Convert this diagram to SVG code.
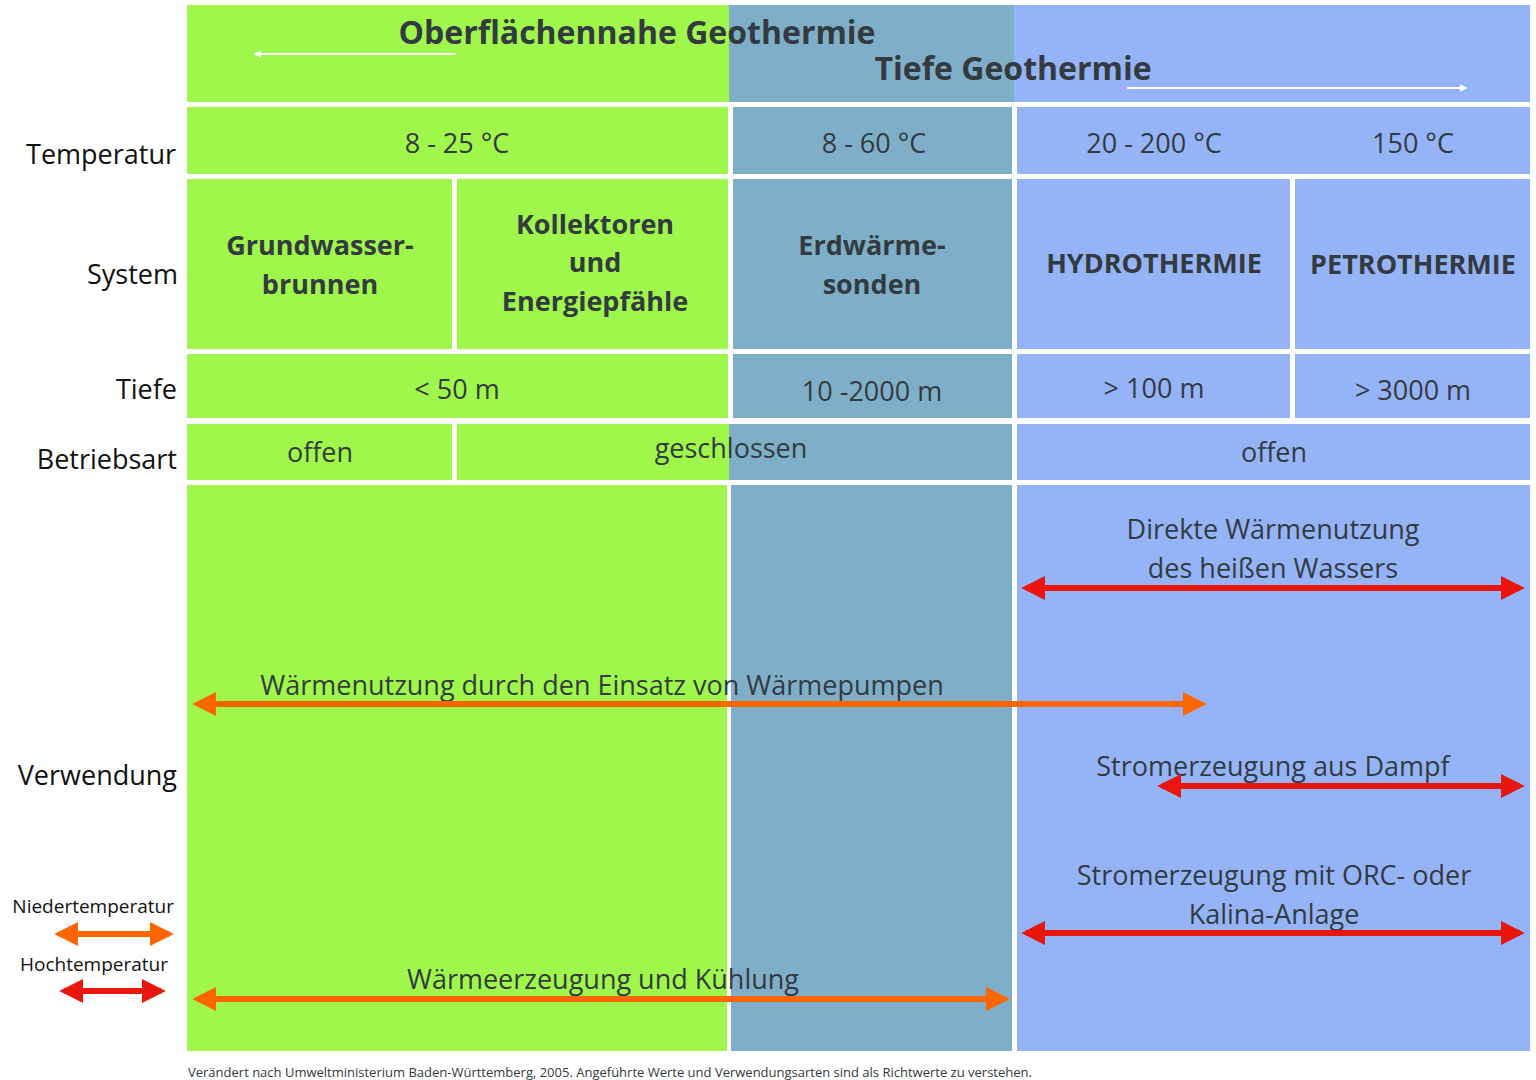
<svg xmlns="http://www.w3.org/2000/svg" width="1536" height="1080" viewBox="0 0 1536 1080">
<style>
.g{fill:#a0f74b}.s{fill:#7fafc8}.b{fill:#95b4f8}
text{font-family:"Open Sans","Liberation Sans",sans-serif;fill:#333a40}
.t{font-size:27px;text-anchor:middle}
.h{font-size:27px;font-weight:bold;text-anchor:middle}
.l{font-size:27px;text-anchor:end;fill:#111}
.o{stroke:#ff6600;stroke-width:6;fill:none}
.r{stroke:#e8160c;stroke-width:6;fill:none}
</style>
<defs>
<marker id="ao" viewBox="0 0 10 10" refX="8" refY="5" markerWidth="4" markerHeight="4" orient="auto-start-reverse" markerUnits="strokeWidth"><path d="M0,0L10,5L0,10z" fill="#ff6600"/></marker>
<marker id="ar" viewBox="0 0 10 10" refX="8" refY="5" markerWidth="4" markerHeight="4" orient="auto-start-reverse" markerUnits="strokeWidth"><path d="M0,0L10,5L0,10z" fill="#e8160c"/></marker>
<marker id="aw" viewBox="0 0 10 10" refX="8" refY="5" markerWidth="4" markerHeight="4" orient="auto" markerUnits="strokeWidth"><path d="M0,0L10,5L0,10z" fill="#fff"/></marker>
</defs>
<rect width="1536" height="1080" fill="#fff"/>
<g id="header">
<rect class="g" x="187" y="5" width="542" height="97"/>
<rect class="s" x="729" y="5" width="285" height="97"/>
<rect class="b" x="1014" y="5" width="516" height="97"/>
<line x1="456" y1="54" x2="255" y2="54" stroke="#fff" stroke-width="2" marker-end="url(#aw)"/>
<line x1="1127" y1="88" x2="1466" y2="88" stroke="#fff" stroke-width="2" marker-end="url(#aw)"/>
<text class="h" x="637" y="44" font-size="32" style="font-size:32px">Oberflächennahe Geothermie</text>
<text class="h" x="1013" y="80" style="font-size:32px">Tiefe Geothermie</text>
</g>
<g id="labels">
<text class="l" x="176" y="164">Temperatur</text>
<text class="l" x="178" y="284">System</text>
<text class="l" x="177" y="399">Tiefe</text>
<text class="l" x="177" y="469">Betriebsart</text>
<text class="l" x="177" y="785">Verwendung</text>
<text class="l" x="174" y="913" style="font-size:19px">Niedertemperatur</text>
<text class="l" x="168" y="971" style="font-size:19px">Hochtemperatur</text>
</g>
<g id="temperatur">
<rect class="g" x="187" y="107" width="541" height="67"/>
<rect class="s" x="733" y="107" width="279" height="67"/>
<rect class="b" x="1017" y="107" width="513" height="67"/>
<text class="t" x="457" y="153">8 -  25 °C</text>
<text class="t" x="874" y="153">8 -  60 °C</text>
<text class="t" x="1154" y="153">20  - 200 °C</text>
<text class="t" x="1413" y="153">150 °C</text>
</g>
<g id="system">
<rect class="g" x="187" y="179" width="265" height="170"/>
<rect class="g" x="457" y="179" width="271" height="170"/>
<rect class="s" x="733" y="179" width="279" height="170"/>
<rect class="b" x="1017" y="179" width="273" height="170"/>
<rect class="b" x="1295" y="179" width="235" height="170"/>
<text class="h" x="320" y="255">Grundwasser-</text>
<text class="h" x="320" y="294">brunnen</text>
<text class="h" x="595" y="234">Kollektoren</text>
<text class="h" x="595" y="272">und</text>
<text class="h" x="595" y="311">Energiepfähle</text>
<text class="h" x="872" y="255">Erdwärme-</text>
<text class="h" x="872" y="294">sonden</text>
<text class="h" x="1154" y="273">HYDROTHERMIE</text>
<text class="h" x="1413" y="274">PETROTHERMIE</text>
</g>
<g id="tiefe">
<rect class="g" x="187" y="354" width="541" height="64"/>
<rect class="s" x="733" y="354" width="279" height="64"/>
<rect class="b" x="1017" y="354" width="273" height="64"/>
<rect class="b" x="1295" y="354" width="235" height="64"/>
<text class="t" x="457" y="399">&lt; 50 m</text>
<text class="t" x="872" y="401">10 -2000 m</text>
<text class="t" x="1154" y="398">&gt; 100 m</text>
<text class="t" x="1413" y="400">&gt; 3000 m</text>
</g>
<g id="betriebsart">
<rect class="g" x="187" y="424" width="265" height="56"/>
<rect class="g" x="457" y="424" width="272" height="56"/>
<rect class="s" x="729" y="424" width="283" height="56"/>
<rect class="b" x="1017" y="424" width="513" height="56"/>
<text class="t" x="320" y="462">offen</text>
<text class="t" x="731" y="458">geschlossen</text>
<text class="t" x="1274" y="462">offen</text>
</g>
<g id="verwendung">
<rect class="g" x="187" y="485" width="540" height="566"/>
<rect class="s" x="731" y="485" width="281" height="566"/>
<rect class="b" x="1017" y="485" width="513" height="566"/>
<text class="t" x="1273" y="539">Direkte Wärmenutzung</text>
<text class="t" x="1273" y="578">des heißen Wassers</text>
<text class="t" x="602" y="695">Wärmenutzung durch den Einsatz von Wärmepumpen</text>
<text class="t" x="1273" y="776">Stromerzeugung aus Dampf</text>
<text class="t" x="1274" y="885">Stromerzeugung mit ORC- oder</text>
<text class="t" x="1274" y="924">Kalina-Anlage</text>
<text class="t" x="603" y="989">Wärmeerzeugung und Kühlung</text>
</g>
<g id="connectors">
<line class="r" x1="1026" y1="588" x2="1520" y2="588" marker-start="url(#ar)" marker-end="url(#ar)"/>
<line class="o" x1="197" y1="704" x2="1202" y2="704" marker-start="url(#ao)" marker-end="url(#ao)"/>
<line class="r" x1="1162" y1="786" x2="1520" y2="786" marker-start="url(#ar)" marker-end="url(#ar)"/>
<line class="r" x1="1026" y1="933" x2="1520" y2="933" marker-start="url(#ar)" marker-end="url(#ar)"/>
<line class="o" x1="197" y1="999" x2="1005" y2="999" marker-start="url(#ao)" marker-end="url(#ao)"/>
<line class="o" x1="59" y1="934" x2="169" y2="934" marker-start="url(#ao)" marker-end="url(#ao)"/>
<line class="r" x1="64" y1="991" x2="161" y2="991" marker-start="url(#ar)" marker-end="url(#ar)"/>
</g>
<text x="188" y="1077" style="font-size:13px">Verändert nach Umweltministerium Baden-Württemberg, 2005. Angeführte Werte und Verwendungsarten sind als Richtwerte zu verstehen.</text>
</svg>
